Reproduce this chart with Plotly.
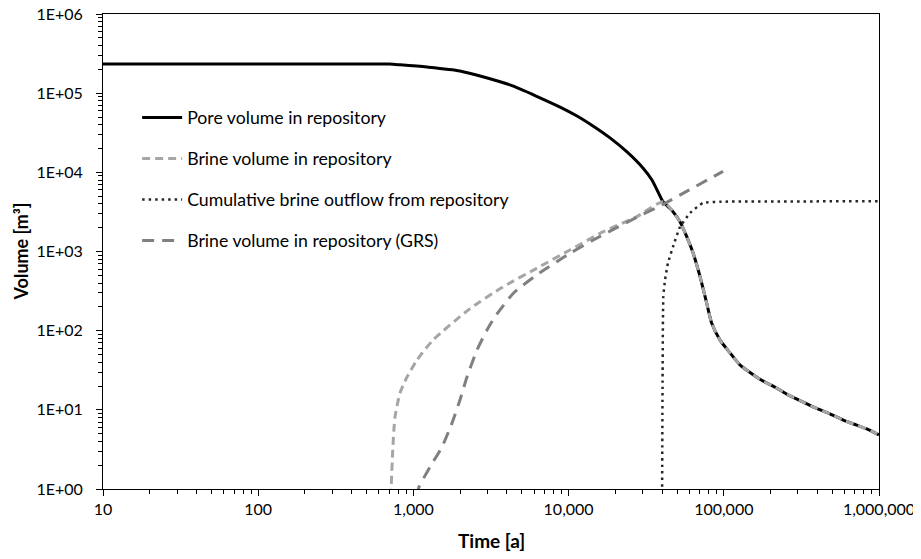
import plotly.graph_objects as go

# ---- data ----
pore_t = [10, 100, 400, 700, 820, 1224, 1995, 4190, 8810, 11330, 14360, 18490, 23790, 30130, 34440,
          38800, 40600,
          46100, 52200, 57700, 63500, 70300, 77600, 83600, 94600, 110000, 127000,
          171000, 214000, 254000, 310000, 397000, 483000, 589000, 718000, 897000, 1000000]
pore_v = [2.33e5, 2.33e5, 2.33e5, 2.33e5, 2.28e5, 2.14e5, 1.91e5, 1.27e5, 6.68e4, 5.15e4, 3.85e4,
          2.72e4, 1.81e4, 1.135e4, 8000, 5020, 4260,
          3340, 2380, 1540, 948, 481, 222, 124, 76, 52, 37,
          24.3, 19.3, 15.8, 13.1, 10.4, 8.9, 7.4, 6.4, 5.4, 4.8]

brine_t = [712, 718, 736, 761, 820, 910, 1055, 1337, 2317, 3794, 6223, 10200, 16740, 27480, 40600,
           46100, 52200, 57700, 63500, 70300, 77600, 83600, 94600, 110000, 127000,
           171000, 214000, 254000, 310000, 397000, 483000, 589000, 718000, 897000, 1000000]
brine_v = [0.8, 1.0, 3.1, 8.1, 16.3, 26, 42.6, 76, 190, 359, 613, 1045, 1778, 2752, 4260,
           3340, 2380, 1540, 948, 481, 222, 124, 76, 52, 37,
           24.3, 19.3, 15.8, 13.1, 10.4, 8.9, 7.4, 6.4, 5.4, 4.8]

outflow_t = [40000, 40300, 40760, 41800, 43700, 47000, 52200, 60600, 73400, 94500, 1000000]
outflow_v = [0.5, 20, 266, 437, 716, 1140, 2040, 3063, 4100, 4250, 4300]

grs_t = [1050, 1087, 1279, 1528, 1773, 1995, 2214, 2570, 2980, 3357, 4407, 6223, 10200, 14420,
         19410, 27480, 39840, 57900, 98900]
grs_v = [0.8, 1.06, 1.9, 3.4, 6.8, 13.3, 26, 57, 102, 150, 297, 505, 948, 1396,
         1900, 2700, 3865, 5780, 10300]

names = ["Pore volume in repository", "Brine volume in repository",
         "Cumulative brine outflow from repository", "Brine volume in repository (GRS)"]

x_tickvals = [10, 100, 1000, 10000, 100000, 1000000]
x_ticktext = ["10", "100", "1,000", "10,000", "100,000", "1,000,000"]
y_tickvals = [1, 10, 100, 1000, 10000, 100000, 1000000]
y_ticktext = ["1E+00", "1E+01", "1E+02", "1E+03", "1E+04", "1E+05", "1E+06"]
x_title = "Time [a]"
y_title = "Volume [m³]"

FONT = "Lato, 'Open Sans', sans-serif"

x_minor = [m * 10 ** k for k in range(1, 6) for m in range(2, 10)]
y_minor = [m * 10 ** k for k in range(0, 6) for m in range(2, 10)]

fig = go.Figure()
fig.add_trace(go.Scatter(x=pore_t, y=pore_v, name=names[0], mode="lines", legendgroup="a",
                         line=dict(color="#000000", width=3, shape="spline", smoothing=0.6)))
fig.add_trace(go.Scatter(x=brine_t, y=brine_v, name=names[1], mode="lines", legendgroup="b",
                         line=dict(color="#A6A6A6", width=3, dash="8px,5px", shape="spline", smoothing=0.6)))
fig.add_trace(go.Scatter(x=outflow_t, y=outflow_v, name=names[2], mode="lines", legendgroup="c",
                         line=dict(color="#262626", width=2.5, dash="2.5px,4px", shape="spline", smoothing=0.4)))
fig.add_trace(go.Scatter(x=grs_t, y=grs_v, name=names[3], mode="lines", legendgroup="d",
                         line=dict(color="#808080", width=3, dash="12px,8px", shape="spline", smoothing=0.6)))

axis_common = dict(type="log", showgrid=False, zeroline=False, showline=True, linecolor="#000000",
                   linewidth=1, mirror=True, ticks="outside", ticklen=6, tickcolor="#000000",
                   automargin=False, ticklabeloverflow="allow",
                   tickfont=dict(family=FONT, size=16, color="#000000"))

fig.update_xaxes(**axis_common, range=[1, 6], tickvals=x_tickvals, ticktext=x_ticktext,
                 minor=dict(tickvals=x_minor, ticks="outside", ticklen=4, tickcolor="#000000"))
fig.update_yaxes(**axis_common, range=[0, 6], tickvals=y_tickvals, ticktext=y_ticktext,
                 ticklabelstandoff=10,
                 minor=dict(tickvals=y_minor, ticks="outside", ticklen=4, tickcolor="#000000"))

fig.add_annotation(text="<b>" + x_title + "</b>", xref="paper", yref="paper", x=0.5, y=0,
                   yshift=-51, showarrow=False, xanchor="center", yanchor="middle",
                   font=dict(family=FONT, size=19, color="#000000"))
fig.add_annotation(text="<b>" + y_title + "</b>", xref="paper", yref="paper", x=0, y=0.5,
                   xshift=-83, showarrow=False, textangle=-90, xanchor="center", yanchor="middle",
                   font=dict(family=FONT, size=18, color="#000000"))

# the page body adds an 8px offset, so the figure is sized 8px smaller
fig.update_layout(
    width=913, height=551,
    margin=dict(l=95, r=42, t=6, b=70),
    paper_bgcolor="#FFFFFF", plot_bgcolor="#FFFFFF",
    font=dict(family=FONT, size=16, color="#000000"),
    legend=dict(x=0.044, y=0.82, xanchor="left", yanchor="top", bgcolor="rgba(0,0,0,0)",
                tracegroupgap=15, itemwidth=40, font=dict(family=FONT, size=17.7, color="#000000")),
)

fig.write_html("out.html")
